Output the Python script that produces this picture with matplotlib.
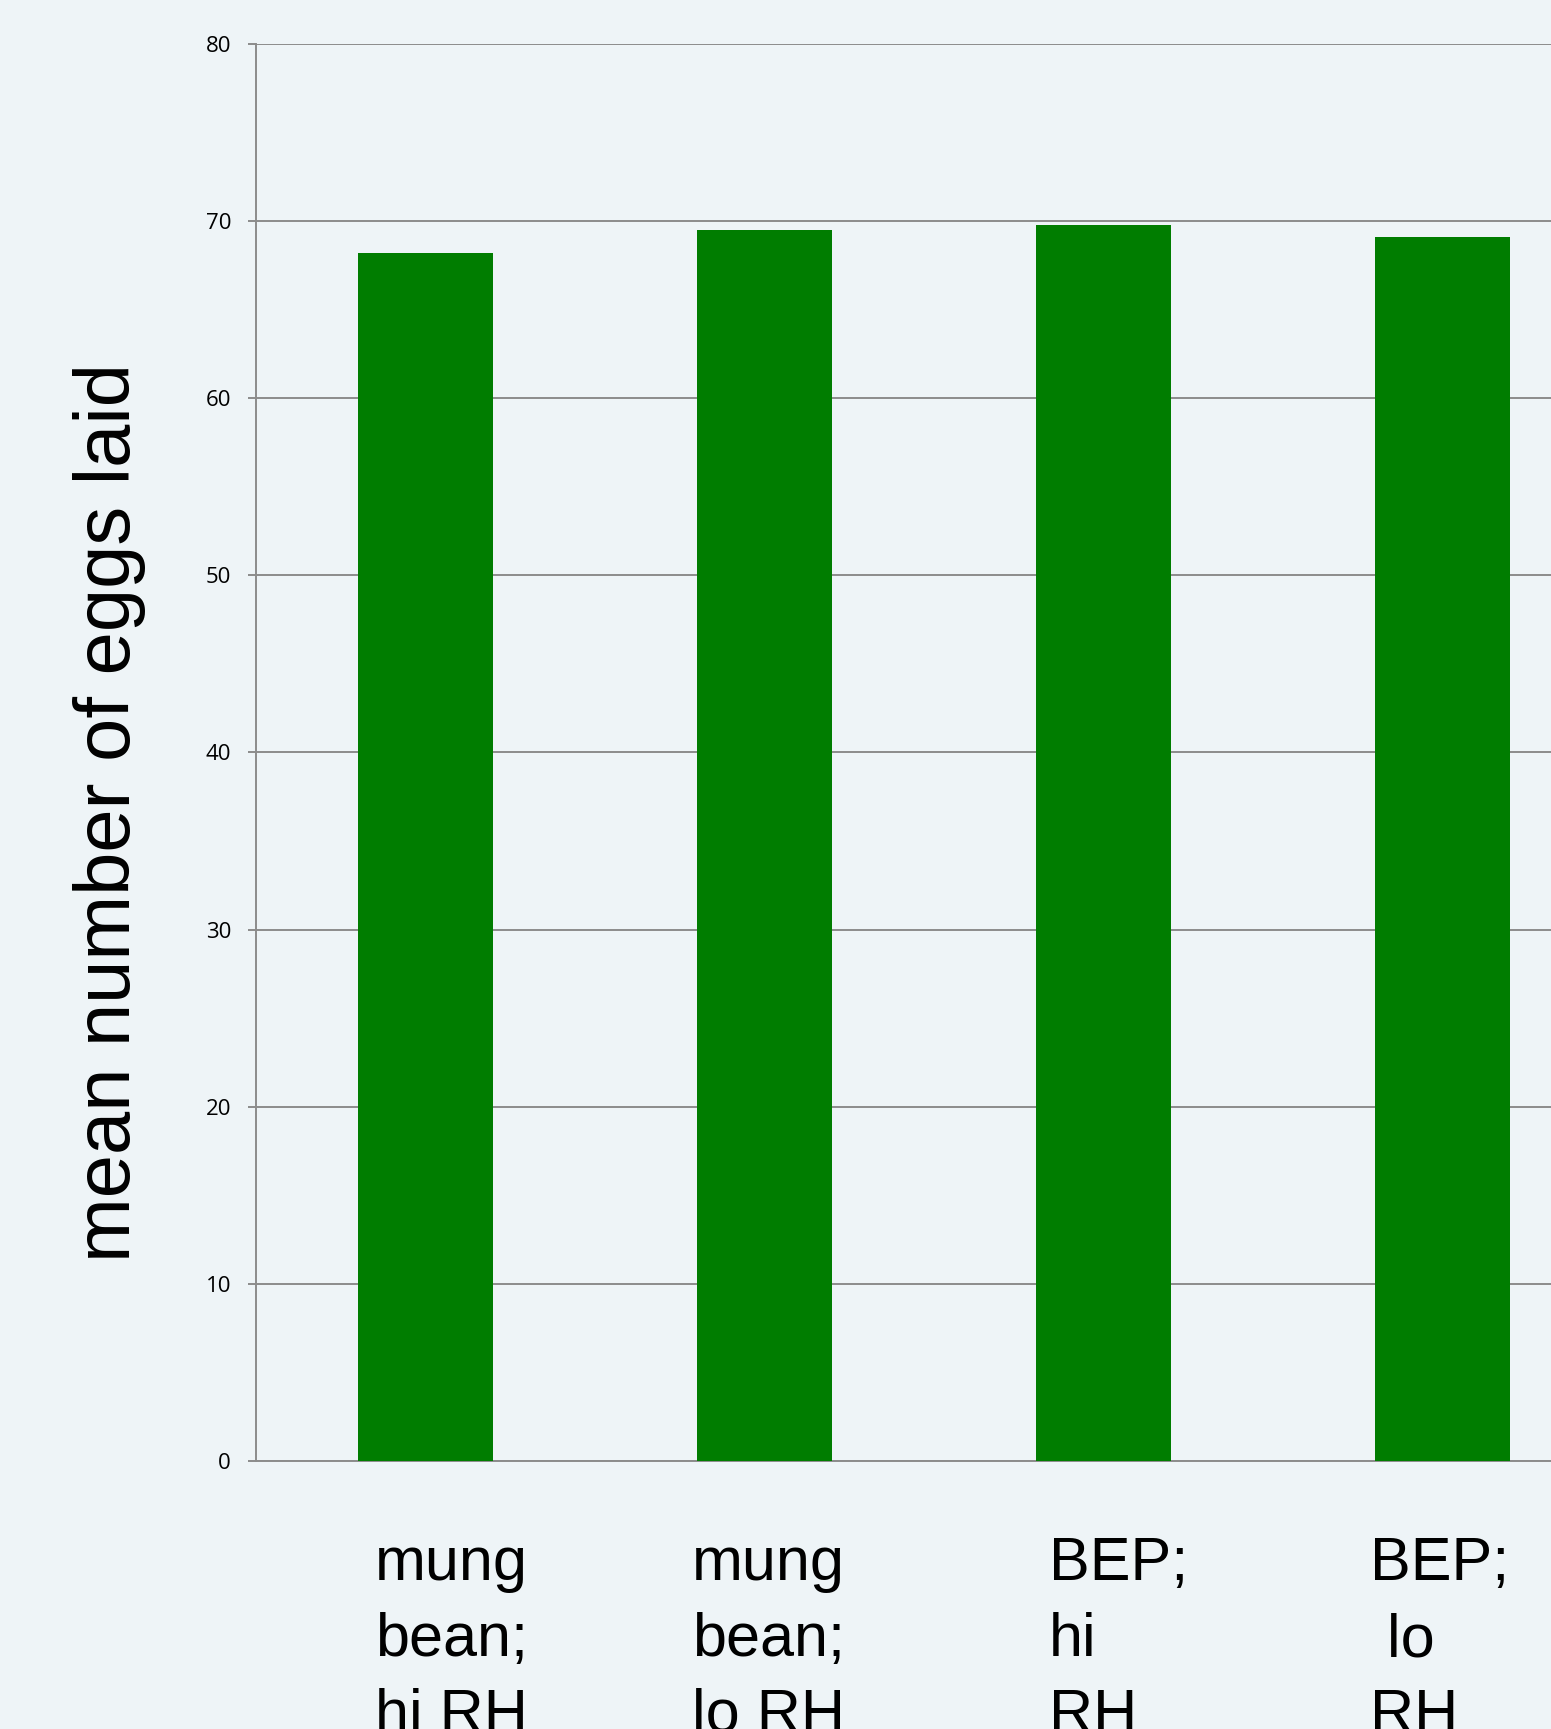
import matplotlib
matplotlib.use("Agg")
import matplotlib.pyplot as plt
import matplotlib.transforms as mtransforms

# Data
categories = ["mung\nbean;\nhi RH", "mung\nbean;\nlo RH", "BEP;\nhi\nRH", "BEP;\n lo\nRH"]
mean_eggs = [68.2, 69.5, 69.8, 69.1]
y_ticks = [0, 10, 20, 30, 40, 50, 60, 70, 80]

# Style
BG = "#EEF4F7"
BAR = "#007D00"
GRID = "#8C8C8C"
label_offsets = [-0.149, -0.214, -0.161, -0.214]  # left edge of each category label

fig = plt.figure(figsize=(15.51, 17.29), dpi=100, facecolor=BG)
ax = fig.add_axes([0.1651, 0.155, 1.0393 - 0.1651, 0.9746 - 0.155])
ax.set_facecolor(BG)
ax.patch.set_alpha(0)

x = list(range(len(categories)))
ax.bar(x, mean_eggs, width=0.4, color=BAR, zorder=3)

ax.set_xlim(-0.5, len(categories) - 0.5)
ax.set_ylim(0, 80)
ax.set_yticks(y_ticks)
ax.set_yticklabels([str(v) for v in y_ticks], fontfamily="Open Sans", fontsize=16)
ax.yaxis.grid(True, color=GRID, linewidth=1.4, zorder=0)
ax.set_axisbelow(True)
ax.tick_params(axis="y", length=6, width=1.4, color=GRID, pad=12)
ax.set_xticks([])

for side in ("top", "right"):
    ax.spines[side].set_visible(False)
for side in ("left", "bottom"):
    ax.spines[side].set_color(GRID)
    ax.spines[side].set_linewidth(1.4)

# Category labels below the axis, left-aligned multi-line blocks
# (anchored on the baseline of the last line, which runs past the bottom edge)
trans = mtransforms.blended_transform_factory(ax.transData, fig.transFigure)
for i, (lab, off) in enumerate(zip(categories, label_offsets)):
    ax.text(i + off, -0.0017, lab, transform=trans,
            ha="left", va="baseline", fontfamily="Liberation Sans",
            fontsize=44, linespacing=1.43, clip_on=False)

fig.text(130 / 1551, 1 - 813 / 1729, "mean number of eggs laid", rotation=90,
         rotation_mode="anchor", ha="center", va="baseline",
         fontfamily="Liberation Sans", fontsize=56)

fig.savefig("out.png", dpi=100, facecolor=BG)
